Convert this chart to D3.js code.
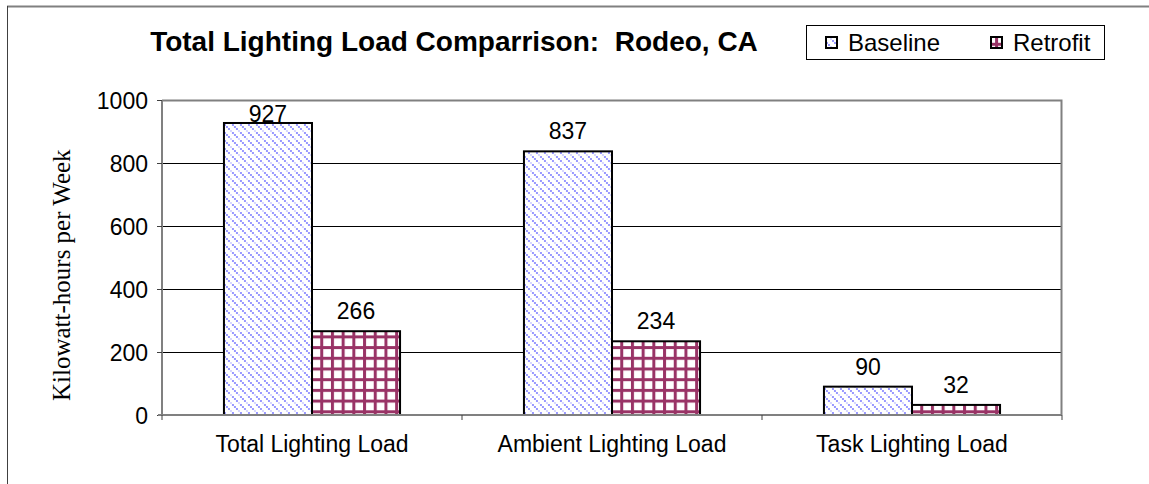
<!DOCTYPE html>
<html>
<head>
<meta charset="utf-8">
<script src="https://cdn.jsdelivr.net/npm/d3@7"></script>
<style>
  body { margin: 0; background: #fff; }
  svg { display: block; font-family: "Liberation Sans", Arial, sans-serif; }
</style>
</head>
<body>
<script>
// Data
var categories = ["Total Lighting Load", "Ambient Lighting Load", "Task Lighting Load"];
var seriesNames = ["Baseline", "Retrofit"];
var baseline = [927, 837, 90];
var retrofit = [266, 234, 32];
var yTicks = [0, 200, 400, 600, 800, 1000];

var W = 1149, H = 484;
var margin = { top: 100, right: 87, bottom: 69, left: 162 },
  width = W - margin.left - margin.right,
  height = H - margin.top - margin.bottom;

var svg = d3.select("body").append("svg")
  .attr("width", W)
  .attr("height", H);

// Patterns for the two series
var defs = svg.append("defs");
var pBase = defs.append("pattern")
  .attr("id", "pBase")
  .attr("patternUnits", "userSpaceOnUse")
  .attr("width", 8).attr("height", 8);
pBase.append("rect").attr("width", 8).attr("height", 8).attr("fill", "#fff");
[0, 2, 4, 6].forEach(function(i) {
  pBase.append("rect").attr("x", i).attr("y", i).attr("width", 2).attr("height", 2)
    .attr("fill", i == 6 ? "#d6d6ff" : "#9999ff");
});

var pRetro = defs.append("pattern")
  .attr("id", "pRetro")
  .attr("patternUnits", "userSpaceOnUse")
  .attr("width", 10.7).attr("height", 10.7);
pRetro.append("rect").attr("width", 10.7).attr("height", 10.7).attr("fill", "#fff");
pRetro.append("rect").attr("x", 0).attr("y", 0).attr("width", 3).attr("height", 10.7).attr("fill", "#993366");
pRetro.append("rect").attr("x", 0).attr("y", 0).attr("width", 10.7).attr("height", 3).attr("fill", "#993366");

// Outer chart frame (top and left edges)
svg.append("line").attr("x1", 7).attr("y1", 6.5).attr("x2", W).attr("y2", 6.5)
  .attr("stroke", "#808080").attr("stroke-width", 2);
svg.append("line").attr("x1", 7.5).attr("y1", 6).attr("x2", 7.5).attr("y2", H)
  .attr("stroke", "#404040").attr("stroke-width", 1);

var chart = svg.append("g")
  .attr("transform", "translate(" + margin.left + "," + margin.top + ")");

// Scales
var x0 = d3.scaleBand().domain(categories).range([0, width]);
var y = d3.scaleLinear().domain([0, 1000]).range([height, 0]);
var groupW = x0.bandwidth() * 0.587;
var x1 = d3.scaleBand().domain(seriesNames).range([0, groupW]);

// Gridlines
chart.selectAll(".grid")
  .data(yTicks.filter(function(d) { return d > 0 && d < 1000; }))
  .enter().append("line")
  .attr("x1", 0).attr("x2", width)
  .attr("y1", function(d) { return Math.round(y(d)) + 0.5; })
  .attr("y2", function(d) { return Math.round(y(d)) + 0.5; })
  .attr("stroke", "#000").attr("stroke-width", 1);

// Plot area border (top and right)
chart.append("path")
  .attr("d", "M0,0.5H" + (width - 0.5) + "V" + height)
  .attr("fill", "none").attr("stroke", "#808080").attr("stroke-width", 2);

// Bars
var series = [
  { name: "Baseline", values: baseline, fill: "url(#pBase)" },
  { name: "Retrofit", values: retrofit, fill: "url(#pRetro)" }
];

var groups = chart.selectAll(".cat")
  .data(categories)
  .enter().append("g")
  .attr("transform", function(d) {
    return "translate(" + (x0(d) + (x0.bandwidth() - groupW) / 2) + ",0)";
  });

groups.each(function(cat, ci) {
  var g = d3.select(this);
  series.forEach(function(s) {
    var v = s.values[ci];
    g.append("rect")
      .attr("x", x1(s.name))
      .attr("y", y(v))
      .attr("width", x1.bandwidth())
      .attr("height", height - y(v))
      .attr("fill", s.fill)
      .attr("stroke", "#000")
      .attr("stroke-width", 2);
    g.append("text")
      .attr("x", x1(s.name) + x1.bandwidth() / 2)
      .attr("y", Math.max(y(v) - 12, 22))
      .attr("text-anchor", "middle")
      .style("font-size", "23px")
      .text(v);
  });
});

// Axes
var yAxis = d3.axisLeft(y).tickValues(yTicks).tickFormat(d3.format("d")).tickSize(5).tickPadding(9);
var yg = chart.append("g").call(yAxis);
yg.select(".domain").attr("stroke", "#808080").attr("stroke-width", 2).attr("d", "M0,0V" + height);
yg.selectAll(".tick line").attr("stroke", "#404040");
yg.selectAll(".tick text").style("font-size", "23px").attr("fill", "#000").attr("dy", "0.35em");

var xAxis = d3.axisBottom(x0).tickSize(0).tickPadding(21);
var xg = chart.append("g")
  .attr("transform", "translate(0," + height + ")")
  .call(xAxis);
xg.select(".domain").attr("stroke", "#808080").attr("stroke-width", 2).attr("d", "M-4,0H" + width);
xg.selectAll(".tick text").style("font-size", "23px").attr("fill", "#000");
// small tick marks at category boundaries
chart.selectAll(".xtick")
  .data([0, 1, 2, 3])
  .enter().append("line")
  .attr("x1", function(d) { return d * x0.bandwidth(); })
  .attr("x2", function(d) { return d * x0.bandwidth(); })
  .attr("y1", height).attr("y2", height + 5)
  .attr("stroke", "#404040");

// Y axis title
svg.append("text")
  .attr("transform", "translate(70,401) rotate(-90)")
  .attr("text-anchor", "start")
  .style("font-family", "'Liberation Serif', 'Times New Roman', serif")
  .style("font-size", "25px")
  .text("Kilowatt-hours per Week");

// Title
svg.append("text")
  .attr("x", 454)
  .attr("y", 51)
  .attr("text-anchor", "middle")
  .attr("xml:space", "preserve")
  .style("white-space", "pre")
  .style("font-size", "28px")
  .style("font-weight", "bold")
  .text("Total Lighting Load Comparrison:  Rodeo, CA");

// Legend
var legend = svg.append("g");
legend.append("rect")
  .attr("x", 806.5).attr("y", 25.5).attr("width", 298).attr("height", 34)
  .attr("fill", "#fff").attr("stroke", "#000");
var legX = [826, 991];
series.forEach(function(s, i) {
  legend.append("rect")
    .attr("x", legX[i]).attr("y", 37).attr("width", 11).attr("height", 11)
    .attr("fill", s.fill).attr("stroke", "#000").attr("stroke-width", 2);
  legend.append("text")
    .attr("x", legX[i] + 22).attr("y", 51)
    .style("font-size", "24px")
    .text(s.name);
});
</script>
</body>
</html>
